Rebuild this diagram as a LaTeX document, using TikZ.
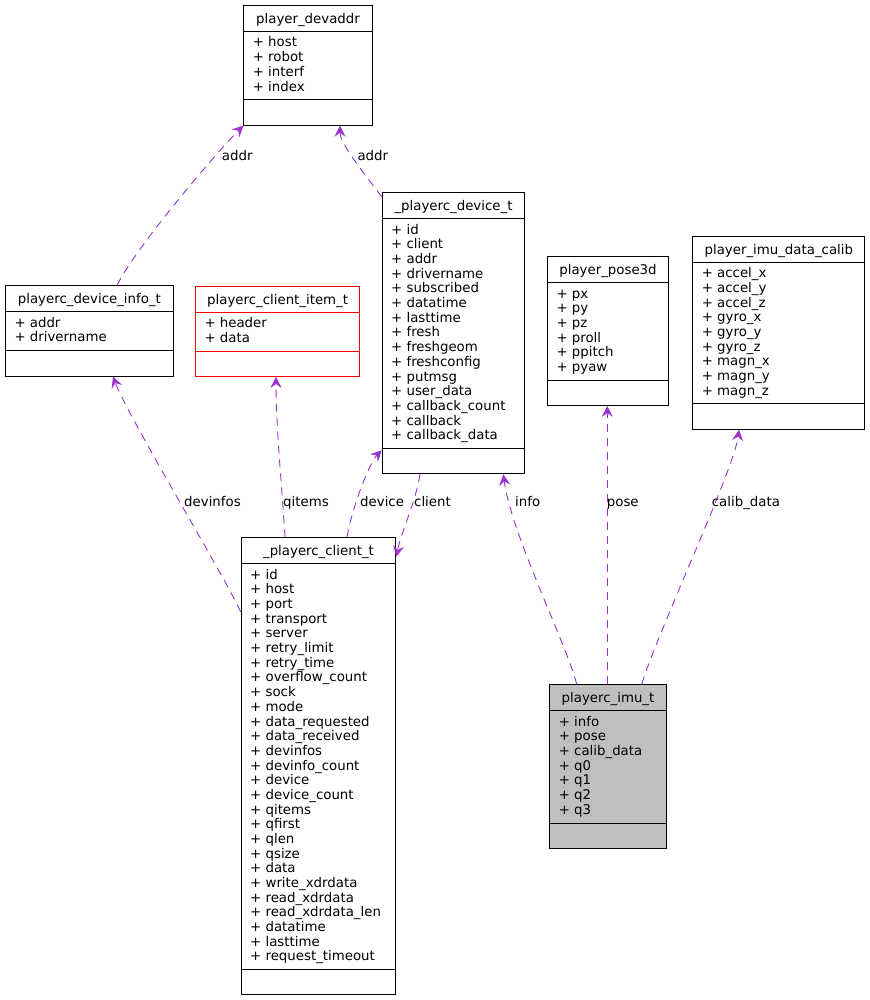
\documentclass[tikz,border=0pt]{standalone}
\usepackage{fontspec}
\setmainfont{DejaVu Sans}
\usetikzlibrary{arrows.meta}
\definecolor{edgecol}{HTML}{9A32CD}
\definecolor{hlfill}{HTML}{BFBFBF}
\newcommand{\umlbox}[8]{% name, left, top, right, n, title, attrs, style
  \pgfmathsetmacro{\bh}{75.6+(#5-1)*14.67}
  \pgfmathsetmacro{\bw}{#4-#2}
  \pgfmathsetmacro{\sepb}{42+(#5-1)*14.67+8.6}
  \node[classbox,#8,minimum width=\bw pt,minimum height=\bh pt,anchor=north west] (#1) at (#2,#3) {};
  \draw[#8,fill=none] ([yshift=-26pt]#1.north west) -- ([yshift=-26pt]#1.north east);
  \draw[#8,fill=none] ([yshift=-\sepb pt]#1.north west) -- ([yshift=-\sepb pt]#1.north east);
  \node[txt,anchor=base] (#1-title) at ([yshift=-18.5pt]#1.north) {#6};
  \foreach \t [count=\i] in {#7} {
    \pgfmathsetmacro{\ys}{42+(\i-1)*14.67}
    \node[txt,anchor=base west] at ([xshift=9.3pt,yshift=-\ys pt]#1.north west) {\t};
  }
}
\begin{document}
\begin{tikzpicture}[x=1pt,y=-1pt,
  classbox/.style={draw=black,line width=1pt,inner sep=0pt,fill=white},
  txt/.style={inner sep=0pt,font=\fontsize{13.33}{14.67}\selectfont},
  rel/.style={draw=edgecol,line width=0.9pt,dash pattern=on 8pt off 6pt,
     -{Stealth[length=11pt,width=11pt,inset=4pt,fill=edgecol]}},
  lbl/.style={txt,anchor=base west}]
\useasboundingbox (0,0) rectangle (869,1000);

\umlbox{devaddr}{243.3}{5}{371.7}{4}{player\_devaddr}{+ host,+ robot,+ interf,+ index}{draw=black}
\umlbox{devinfo}{5}{285.3}{172.7}{2}{playerc\_device\_info\_t}{+ addr,+ drivername}{draw=black}
\umlbox{citem}{195}{285.7}{359.3}{2}{playerc\_client\_item\_t}{+ header,+ data}{draw=red}
\umlbox{devt}{381.7}{192.3}{524.3}{15}{\_playerc\_device\_t}{+ id,+ client,+ addr,+ drivername,+ subscribed,+ datatime,+ lasttime,+ fresh,+ freshgeom,+ freshconfig,+ putmsg,+ user\_data,+ callback\_count,+ callback,+ callback\_data}{draw=black}
\umlbox{pose}{547}{256}{668}{6}{player\_pose3d}{+ px,+ py,+ pz,+ proll,+ ppitch,+ pyaw}{draw=black}
\umlbox{calib}{692.3}{235.7}{864.3}{9}{player\_imu\_data\_calib}{+ accel\_x,+ accel\_y,+ accel\_z,+ gyro\_x,+ gyro\_y,+ gyro\_z,+ magn\_x,+ magn\_y,+ magn\_z}{draw=black}
\umlbox{client}{240.7}{537.3}{395.3}{27}{\_playerc\_client\_t}{+ id,+ host,+ port,+ transport,+ server,+ retry\_limit,+ retry\_time,+ overflow\_count,+ sock,+ mode,+ data\_requested,+ data\_received,+ devinfos,+ devinfo\_count,+ device,+ device\_count,+ qitems,+ qfirst,+ qlen,+ qsize,+ data,+ write\_xdrdata,+ read\_xdrdata,+ read\_xdrdata\_len,+ datatime,+ lasttime,+ request\_timeout}{draw=black}
\umlbox{imu}{549.3}{684.3}{665.7}{7}{playerc\_imu\_t}{+ info,+ pose,+ calib\_data,+ q0,+ q1,+ q2,+ q3}{draw=black,fill=hlfill}

% connectors
\draw[rel] ([yshift=-74.7pt]client.north west) .. controls +(-10,-25) and +(15,40) .. ([xshift=108pt]devinfo.south west);
\draw[rel] ([xshift=44.3pt]client.north west) .. controls +(-3,-50) and +(0,50) .. ([xshift=81pt]citem.south west);
\draw[rel] ([xshift=106.3pt]client.north west) .. controls +(5,-30) and +(-12,12) .. ([yshift=24pt]devt.south west);
\draw[rel] ([xshift=38.3pt]devt.south west) .. controls +(-5,30) and +(5,-25) .. ([yshift=-19.4pt]client.north east);
\draw[rel] ([xshift=27.4pt]imu.north west) .. controls +(-10,-40) and +(8,60) .. ([xshift=121.6pt]devt.south west);
\draw[rel] ([xshift=58pt]imu.north west) -- ([xshift=60.3pt]pose.south west);
\draw[rel] ([xshift=92.4pt]imu.north west) .. controls +(15,-50) and +(-5,40) .. ([xshift=46.7pt]calib.south west);
\draw[rel] ([xshift=112pt]devinfo.north west) .. controls +(20,-40) and +(-25,25) .. (devaddr.south west);
\draw[rel] ([yshift=-4.7pt]devt.north west) .. controls +(-8,-12) and +(0,20) .. ([xshift=96.7pt]devaddr.south west);

% labels
\node[lbl] (l-devinfos) at (184,506.7) {devinfos};
\node[lbl] (l-qitems) at (283,506.7) {qitems};
\node[lbl] (l-device) at (360,506.7) {device};
\node[lbl] (l-client) at (414,506.7) {client};
\node[lbl] (l-info) at (515,506.7) {info};
\node[lbl] (l-pose) at (606.7,506.7) {pose};
\node[lbl] (l-calib) at (711.7,506.7) {calib\_data};
\node[lbl] (l-addr1) at (221.7,161) {addr};
\node[lbl] (l-addr2) at (357.3,161) {addr};
\end{tikzpicture}
\end{document}
